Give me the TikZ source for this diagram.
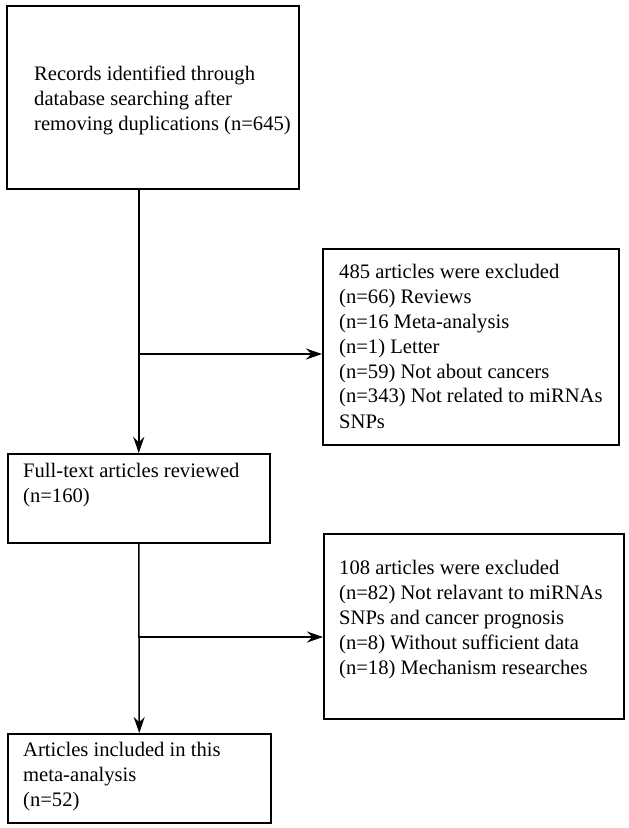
\documentclass[tikz,border=0pt]{standalone}
\usepackage{fontspec}
\setmainfont{Liberation Serif}
\usetikzlibrary{arrows.meta,positioning}

\begin{document}
\begin{tikzpicture}[x=1pt, y=-1pt,
    box/.style={draw, line width=1.5pt, anchor=north west, inner sep=0pt},
    txt/.style={align=left, inner sep=0pt, font=\fontsize{20.6}{25}\selectfont},
    arr/.style={line width=1.5pt, -{Stealth[length=16pt, width=11pt]}}]
  \useasboundingbox (0,0) rectangle (629,828);

  \node[box, minimum width=292pt, minimum height=183pt] (records) at (6,5) {};
  \node[box, minimum width=262pt, minimum height=89pt] (fulltext) at (7,453) {};
  \node[box, minimum width=296pt, minimum height=196pt] (excl1) at (322,248) {};
  \node[box, minimum width=300pt, minimum height=185pt] (excl2) at (323,533) {};
  \node[box, minimum width=263pt, minimum height=89pt] (included) at (7,733) {};

  \node[txt, below right=60.5pt and 28pt of records.north west] (records-txt)
    {Records identified through\\database searching after\\removing duplications (n=645)};
  \node[txt, below right=9.5pt and 16pt of fulltext.north west] (fulltext-txt)
    {Full-text articles reviewed\\(n=160)};
  \node[txt, below right=15.5pt and 17pt of excl1.north west] (excl1-txt)
    {485 articles were excluded\\(n=66) Reviews\\(n=16 Meta-analysis\\(n=1) Letter\\(n=59) Not about cancers\\(n=343) Not related to miRNAs\\SNPs};
  \node[txt, below right=27pt and 16pt of excl2.north west] (excl2-txt)
    {108 articles were excluded\\(n=82) Not relavant to miRNAs\\SNPs and cancer prognosis\\(n=8) Without sufficient data\\(n=18) Mechanism researches};
  \node[txt, below right=9pt and 16pt of included.north west] (included-txt)
    {Articles included in this\\meta-analysis\\(n=52)};

  \path (fulltext.north) ++(0,-99) coordinate (split1);
  \path (included.north) ++(0,-96) coordinate (split2);

  \draw[arr] (records.south -| fulltext.north) -- (fulltext.north);
  \draw[arr] (split1) -- (split1 -| excl1.west);
  \draw[arr] (fulltext.south) -- (included.north);
  \draw[arr] (split2) -- (split2 -| excl2.west);
\end{tikzpicture}
\end{document}
